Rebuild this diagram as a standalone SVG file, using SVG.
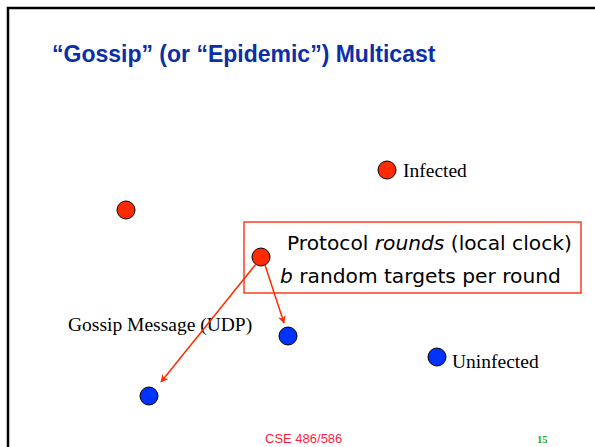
<svg xmlns="http://www.w3.org/2000/svg" width="595" height="447" viewBox="0 0 595 447">
<defs>
<style>
.inf{fill:#ff2a00;stroke:#000;stroke-width:1}
.uninf{fill:#0033ff;stroke:#000;stroke-width:1}
.serif{font-family:"Liberation Serif","Times New Roman",serif;font-size:19.5px;fill:#000}
.box{font-family:"DejaVu Sans",Verdana,sans-serif;font-size:20.2px;fill:#000}
.conn{stroke:#ff2a00;stroke-width:1.5;fill:none}
</style>
<marker id="ah" viewBox="0 0 10 10" refX="9" refY="5" markerWidth="8" markerHeight="8" markerUnits="userSpaceOnUse" orient="auto">
<path d="M0,0 L10,5 L0,10 L3,5 z" fill="#ff2a00"/>
</marker>
</defs>
<rect x="0" y="0" width="595" height="447" fill="#fff"/>
<path d="M8,447 V8 H595" fill="none" stroke="#000" stroke-width="2.5"/>
<text x="52" y="62" font-family="Liberation Sans,Arial,sans-serif" font-weight="bold" font-size="23" fill="#0b2fa8">“Gossip” (or “Epidemic”) Multicast</text>

<g id="legend-infected">
<circle class="inf" cx="387" cy="170" r="9"/>
<text class="serif" x="403" y="177">Infected</text>
</g>
<g id="node-infected-1">
<circle class="inf" cx="126" cy="210" r="9"/>
</g>
<g id="note-box">
<rect x="244" y="222" width="337" height="71" fill="none" stroke="#ff3b1f" stroke-width="1.5"/>
<text class="box" x="287" y="250">Protocol <tspan font-style="italic">rounds</tspan> (local clock)</text>
<text class="box" x="280" y="283"><tspan font-style="italic">b</tspan> random targets per round</text>
</g>
<g id="node-sender">
<circle class="inf" cx="261" cy="257" r="9"/>
</g>
<g id="node-target-1">
<circle class="uninf" cx="288" cy="336" r="9"/>
</g>
<g id="node-target-2">
<circle class="uninf" cx="149" cy="396" r="9"/>
</g>
<g id="legend-uninfected">
<circle class="uninf" cx="437" cy="357" r="9"/>
<text class="serif" x="452" y="368">Uninfected</text>
</g>
<g id="label-gossip">
<text class="serif" x="68" y="331">Gossip Message (UDP)</text>
</g>
<g id="connectors">
<line class="conn" x1="256" y1="264" x2="161" y2="382" marker-end="url(#ah)"/>
<line class="conn" x1="265" y1="265" x2="284" y2="323" marker-end="url(#ah)"/>
</g>
<text x="265" y="443" font-family="Liberation Sans,Arial,sans-serif" font-size="13" fill="#ff1f3a">CSE 486/586</text>
<text x="537" y="443" font-family="Liberation Serif,Times New Roman,serif" font-weight="bold" font-size="10.5" fill="#22aa22">15</text>
</svg>
